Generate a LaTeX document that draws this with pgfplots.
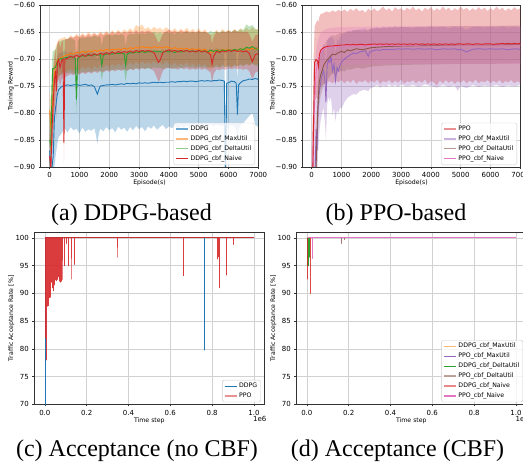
\documentclass[border=0pt]{standalone}
\usepackage{fontspec}
\setmainfont{DejaVu Sans}
\newfontfamily\capfont{Liberation Serif}
\usepackage{pgfplots}
\pgfplotsset{compat=1.18}
\usepackage{pgfplotstable}
\usepgfplotslibrary{fillbetween}
\definecolor{C0}{HTML}{1F77B4}
\definecolor{C1}{HTML}{FF7F0E}
\definecolor{C2}{HTML}{2CA02C}
\definecolor{C3}{HTML}{D62728}
\definecolor{C4}{HTML}{9467BD}
\definecolor{C5}{HTML}{8C564B}
\definecolor{C6}{HTML}{E377C2}

% ---------------- (a) DDPG-based ----------------
\pgfplotstableread{
x m lo hi
0 -0.870 -0.960 -0.790
40 -0.920 -0.960 -0.800
80 -0.900 -0.950 -0.790
120 -0.880 -0.940 -0.760
160 -0.810 -0.900 -0.730
200 -0.790 -0.880 -0.720
250 -0.768 -0.860 -0.700
300 -0.757 -0.845 -0.690
400 -0.751 -0.838 -0.688
500 -0.749 -0.828 -0.684
600 -0.748 -0.836 -0.690
700 -0.749 -0.826 -0.686
800 -0.748 -0.832 -0.692
900 -0.747 -0.829 -0.685
1000 -0.749 -0.838 -0.688
1100 -0.748 -0.827 -0.690
1200 -0.747 -0.835 -0.684
1300 -0.749 -0.830 -0.689
1400 -0.748 -0.833 -0.686
1500 -0.751 -0.828 -0.690
1550 -0.758 -0.840 -0.694
1600 -0.765 -0.857 -0.700
1650 -0.757 -0.838 -0.692
1700 -0.750 -0.829 -0.688
1800 -0.749 -0.834 -0.685
1900 -0.748 -0.826 -0.690
2000 -0.748 -0.832 -0.687
2100 -0.747 -0.828 -0.684
2200 -0.748 -0.836 -0.690
2300 -0.747 -0.825 -0.686
2400 -0.746 -0.831 -0.683
2500 -0.747 -0.827 -0.689
2600 -0.745 -0.835 -0.684
2700 -0.746 -0.826 -0.687
2800 -0.745 -0.832 -0.683
2900 -0.746 -0.824 -0.688
3000 -0.744 -0.830 -0.682
3100 -0.745 -0.826 -0.686
3200 -0.744 -0.834 -0.683
3300 -0.745 -0.825 -0.687
3400 -0.744 -0.829 -0.682
3500 -0.743 -0.823 -0.686
3600 -0.744 -0.831 -0.683
3700 -0.743 -0.826 -0.685
3800 -0.744 -0.822 -0.682
3900 -0.743 -0.830 -0.686
4000 -0.743 -0.825 -0.683
4100 -0.742 -0.828 -0.681
4200 -0.743 -0.823 -0.685
4300 -0.742 -0.829 -0.682
4400 -0.742 -0.824 -0.684
4500 -0.741 -0.827 -0.681
4600 -0.742 -0.822 -0.685
4700 -0.741 -0.828 -0.682
4800 -0.741 -0.823 -0.680
4900 -0.742 -0.826 -0.684
5000 -0.741 -0.821 -0.681
5100 -0.740 -0.827 -0.683
5200 -0.741 -0.822 -0.680
5300 -0.740 -0.826 -0.684
5400 -0.741 -0.820 -0.681
5500 -0.740 -0.825 -0.683
5600 -0.740 -0.821 -0.680
5700 -0.739 -0.824 -0.682
5800 -0.740 -0.822 -0.681
5860 -0.741 -0.826 -0.683
5900 -0.935 -0.980 -0.880
5940 -0.745 -0.830 -0.685
6000 -0.744 -0.826 -0.684
6100 -0.741 -0.822 -0.681
6200 -0.742 -0.825 -0.683
6260 -0.745 -0.830 -0.686
6300 -0.803 -0.870 -0.740
6340 -0.748 -0.828 -0.688
6400 -0.744 -0.823 -0.684
6500 -0.740 -0.818 -0.681
6600 -0.739 -0.812 -0.680
6700 -0.737 -0.805 -0.678
6800 -0.738 -0.800 -0.679
6900 -0.736 -0.822 -0.677
7000 -0.738 -0.826 -0.678
}\tDDPG
\pgfplotstableread{
x m lo hi
0 -0.795 -0.850 -0.760
40 -0.830 -0.880 -0.780
80 -0.800 -0.860 -0.745
120 -0.760 -0.830 -0.712
160 -0.730 -0.790 -0.690
200 -0.712 -0.760 -0.678
250 -0.703 -0.742 -0.670
300 -0.700 -0.733 -0.664
400 -0.697 -0.727 -0.662
500 -0.694 -0.724 -0.659
600 -0.692 -0.722 -0.664
700 -0.690 -0.718 -0.656
800 -0.691 -0.723 -0.660
900 -0.688 -0.716 -0.653
1000 -0.689 -0.721 -0.658
1100 -0.686 -0.714 -0.652
1200 -0.688 -0.719 -0.657
1300 -0.685 -0.713 -0.650
1400 -0.687 -0.720 -0.655
1500 -0.684 -0.712 -0.651
1600 -0.686 -0.717 -0.656
1700 -0.683 -0.711 -0.649
1800 -0.685 -0.716 -0.654
1900 -0.682 -0.710 -0.648
2000 -0.684 -0.715 -0.653
2100 -0.682 -0.709 -0.647
2200 -0.683 -0.714 -0.652
2300 -0.681 -0.708 -0.646
2400 -0.683 -0.713 -0.651
2500 -0.680 -0.707 -0.645
2600 -0.682 -0.712 -0.649
2700 -0.679 -0.706 -0.643
2800 -0.681 -0.711 -0.648
2900 -0.678 -0.705 -0.637
3000 -0.680 -0.710 -0.641
3100 -0.677 -0.704 -0.636
3200 -0.679 -0.709 -0.645
3300 -0.678 -0.705 -0.641
3400 -0.680 -0.710 -0.646
3500 -0.677 -0.704 -0.640
3600 -0.679 -0.709 -0.645
3700 -0.678 -0.705 -0.642
3800 -0.680 -0.711 -0.647
3900 -0.677 -0.704 -0.641
4000 -0.679 -0.708 -0.645
4100 -0.681 -0.712 -0.648
4200 -0.679 -0.706 -0.643
4300 -0.682 -0.713 -0.649
4400 -0.680 -0.707 -0.644
4500 -0.682 -0.712 -0.648
4600 -0.680 -0.706 -0.642
4700 -0.683 -0.713 -0.649
4800 -0.681 -0.708 -0.644
4900 -0.683 -0.714 -0.650
5000 -0.681 -0.707 -0.643
5100 -0.684 -0.714 -0.650
5200 -0.682 -0.709 -0.645
5300 -0.685 -0.715 -0.651
5400 -0.689 -0.720 -0.655
5500 -0.686 -0.716 -0.652
5600 -0.683 -0.710 -0.646
5700 -0.685 -0.716 -0.651
5800 -0.682 -0.709 -0.644
5900 -0.684 -0.715 -0.650
6000 -0.682 -0.710 -0.645
6100 -0.685 -0.716 -0.651
6200 -0.682 -0.709 -0.644
6300 -0.684 -0.714 -0.649
6400 -0.681 -0.708 -0.643
6500 -0.683 -0.713 -0.648
6600 -0.681 -0.707 -0.642
6700 -0.683 -0.713 -0.647
6800 -0.680 -0.706 -0.641
6900 -0.682 -0.711 -0.646
7000 -0.680 -0.707 -0.643
}\tDMax
\pgfplotstableread{
x m lo hi
0 -0.850 -0.900 -0.800
40 -0.860 -0.910 -0.800
80 -0.760 -0.810 -0.705
100 -0.718 -0.752 -0.686
150 -0.717 -0.749 -0.684
200 -0.715 -0.746 -0.683
250 -0.706 -0.737 -0.675
300 -0.701 -0.731 -0.668
400 -0.699 -0.729 -0.666
500 -0.698 -0.727 -0.664
600 -0.697 -0.726 -0.663
700 -0.696 -0.725 -0.661
800 -0.697 -0.727 -0.664
860 -0.699 -0.728 -0.666
900 -0.775 -0.800 -0.745
940 -0.700 -0.730 -0.667
1000 -0.696 -0.726 -0.662
1100 -0.694 -0.724 -0.660
1200 -0.695 -0.725 -0.661
1300 -0.693 -0.723 -0.659
1400 -0.694 -0.724 -0.660
1500 -0.692 -0.722 -0.657
1600 -0.693 -0.723 -0.659
1700 -0.692 -0.722 -0.658
1750 -0.712 -0.740 -0.676
1800 -0.693 -0.722 -0.659
1900 -0.691 -0.721 -0.656
2000 -0.690 -0.720 -0.655
2100 -0.691 -0.721 -0.657
2200 -0.689 -0.719 -0.654
2300 -0.690 -0.720 -0.656
2400 -0.689 -0.719 -0.654
2500 -0.690 -0.721 -0.656
2550 -0.712 -0.742 -0.676
2600 -0.691 -0.721 -0.657
2700 -0.688 -0.718 -0.653
2800 -0.689 -0.719 -0.655
2900 -0.687 -0.717 -0.652
3000 -0.688 -0.718 -0.654
3100 -0.686 -0.716 -0.652
3200 -0.688 -0.718 -0.654
3300 -0.686 -0.717 -0.651
3400 -0.687 -0.718 -0.653
3500 -0.685 -0.715 -0.650
3600 -0.687 -0.717 -0.653
3700 -0.686 -0.716 -0.651
3800 -0.688 -0.719 -0.654
3900 -0.685 -0.715 -0.650
4000 -0.687 -0.717 -0.652
4100 -0.686 -0.716 -0.651
4200 -0.688 -0.718 -0.654
4300 -0.685 -0.715 -0.650
4400 -0.687 -0.717 -0.653
4500 -0.686 -0.716 -0.651
4600 -0.684 -0.714 -0.649
4700 -0.686 -0.716 -0.652
4800 -0.685 -0.715 -0.650
4900 -0.687 -0.717 -0.652
5000 -0.684 -0.714 -0.649
5100 -0.686 -0.716 -0.651
5200 -0.685 -0.715 -0.650
5300 -0.687 -0.717 -0.652
5400 -0.684 -0.714 -0.648
5500 -0.686 -0.716 -0.651
5600 -0.684 -0.714 -0.649
5700 -0.686 -0.716 -0.651
5800 -0.683 -0.713 -0.648
5900 -0.685 -0.715 -0.650
6000 -0.683 -0.713 -0.648
6100 -0.685 -0.715 -0.650
6200 -0.682 -0.712 -0.646
6300 -0.684 -0.714 -0.649
6400 -0.681 -0.711 -0.645
6500 -0.683 -0.713 -0.646
6600 -0.678 -0.710 -0.636
6700 -0.680 -0.711 -0.640
6800 -0.677 -0.709 -0.637
6900 -0.681 -0.712 -0.644
7000 -0.682 -0.713 -0.647
}\tDDelta
\pgfplotstableread{
x m lo hi
0 -0.880 -0.930 -0.830
40 -0.905 -0.960 -0.850
80 -0.830 -0.880 -0.780
120 -0.780 -0.840 -0.725
160 -0.740 -0.800 -0.700
200 -0.722 -0.770 -0.682
230 -0.760 -0.810 -0.720
260 -0.706 -0.745 -0.672
300 -0.701 -0.736 -0.666
350 -0.716 -0.750 -0.680
400 -0.704 -0.738 -0.669
450 -0.700 -0.733 -0.665
480 -0.855 -0.895 -0.800
510 -0.700 -0.734 -0.664
600 -0.699 -0.731 -0.663
700 -0.695 -0.728 -0.659
800 -0.697 -0.730 -0.661
900 -0.693 -0.726 -0.657
1000 -0.696 -0.729 -0.660
1100 -0.692 -0.725 -0.655
1200 -0.695 -0.728 -0.659
1300 -0.691 -0.724 -0.654
1400 -0.694 -0.727 -0.658
1500 -0.690 -0.723 -0.653
1600 -0.693 -0.726 -0.657
1700 -0.689 -0.722 -0.652
1800 -0.692 -0.725 -0.656
1900 -0.688 -0.721 -0.651
2000 -0.691 -0.724 -0.655
2100 -0.687 -0.720 -0.650
2200 -0.690 -0.723 -0.654
2300 -0.686 -0.719 -0.649
2400 -0.689 -0.722 -0.653
2500 -0.686 -0.719 -0.650
2600 -0.688 -0.722 -0.652
2700 -0.685 -0.718 -0.648
2800 -0.688 -0.721 -0.652
2900 -0.684 -0.717 -0.647
3000 -0.687 -0.720 -0.651
3100 -0.684 -0.717 -0.648
3200 -0.686 -0.719 -0.650
3300 -0.684 -0.716 -0.647
3400 -0.686 -0.719 -0.650
3500 -0.688 -0.722 -0.653
3600 -0.700 -0.735 -0.664
3650 -0.706 -0.742 -0.670
3700 -0.703 -0.738 -0.667
3800 -0.688 -0.721 -0.652
3900 -0.685 -0.718 -0.649
4000 -0.683 -0.716 -0.646
4100 -0.686 -0.719 -0.650
4200 -0.684 -0.717 -0.648
4300 -0.687 -0.720 -0.651
4400 -0.684 -0.716 -0.647
4500 -0.686 -0.719 -0.650
4600 -0.684 -0.717 -0.648
4700 -0.687 -0.720 -0.651
4800 -0.685 -0.718 -0.649
4900 -0.687 -0.720 -0.651
5000 -0.684 -0.717 -0.648
5100 -0.687 -0.720 -0.651
5200 -0.685 -0.718 -0.649
5300 -0.688 -0.721 -0.652
5400 -0.692 -0.725 -0.656
5450 -0.710 -0.745 -0.672
5500 -0.695 -0.728 -0.659
5600 -0.686 -0.719 -0.650
5700 -0.688 -0.721 -0.652
5800 -0.685 -0.718 -0.649
5900 -0.687 -0.720 -0.651
6000 -0.684 -0.717 -0.648
6100 -0.686 -0.719 -0.650
6200 -0.684 -0.717 -0.647
6300 -0.686 -0.719 -0.650
6400 -0.685 -0.718 -0.649
6500 -0.687 -0.720 -0.651
6600 -0.685 -0.718 -0.649
6700 -0.690 -0.723 -0.654
6800 -0.705 -0.738 -0.668
6900 -0.692 -0.725 -0.656
7000 -0.690 -0.723 -0.654
}\tDNaive

% ---------------- (b) PPO-based ----------------
\pgfplotstableread{
x m lo hi
0 -0.930 -0.990 -0.870
40 -0.905 -0.970 -0.800
70 -0.800 -0.900 -0.690
100 -0.706 -0.780 -0.640
150 -0.701 -0.770 -0.632
200 -0.704 -0.775 -0.628
230 -0.714 -0.785 -0.632
260 -0.692 -0.762 -0.622
300 -0.684 -0.752 -0.617
400 -0.679 -0.746 -0.615
500 -0.677 -0.744 -0.612
600 -0.676 -0.741 -0.614
700 -0.676 -0.745 -0.610
800 -0.675 -0.740 -0.613
900 -0.675 -0.743 -0.609
1000 -0.674 -0.739 -0.612
1100 -0.674 -0.745 -0.608
1200 -0.673 -0.740 -0.613
1300 -0.674 -0.744 -0.607
1400 -0.673 -0.738 -0.611
1500 -0.674 -0.746 -0.606
1600 -0.673 -0.741 -0.612
1700 -0.673 -0.743 -0.609
1800 -0.674 -0.739 -0.614
1900 -0.673 -0.745 -0.607
2000 -0.673 -0.740 -0.611
2100 -0.672 -0.744 -0.606
2200 -0.673 -0.738 -0.612
2300 -0.672 -0.746 -0.608
2400 -0.673 -0.741 -0.603
2500 -0.672 -0.743 -0.610
2600 -0.673 -0.739 -0.606
2700 -0.672 -0.745 -0.612
2800 -0.673 -0.740 -0.604
2900 -0.672 -0.744 -0.609
3000 -0.673 -0.738 -0.606
3100 -0.672 -0.746 -0.611
3200 -0.673 -0.741 -0.605
3300 -0.672 -0.743 -0.609
3400 -0.673 -0.739 -0.603
3500 -0.672 -0.745 -0.610
3600 -0.673 -0.740 -0.606
3700 -0.672 -0.744 -0.612
3800 -0.673 -0.738 -0.605
3900 -0.672 -0.746 -0.609
4000 -0.673 -0.741 -0.604
4100 -0.672 -0.743 -0.611
4200 -0.673 -0.749 -0.606
4300 -0.672 -0.740 -0.610
4400 -0.673 -0.745 -0.603
4500 -0.672 -0.739 -0.609
4600 -0.673 -0.744 -0.605
4700 -0.672 -0.740 -0.611
4800 -0.673 -0.746 -0.606
4900 -0.672 -0.741 -0.610
5000 -0.672 -0.744 -0.603
5100 -0.673 -0.739 -0.609
5200 -0.672 -0.745 -0.605
5300 -0.672 -0.740 -0.611
5400 -0.673 -0.744 -0.606
5500 -0.672 -0.738 -0.610
5600 -0.672 -0.745 -0.604
5700 -0.673 -0.741 -0.609
5800 -0.672 -0.743 -0.605
5900 -0.672 -0.739 -0.611
6000 -0.672 -0.745 -0.606
6100 -0.673 -0.740 -0.610
6200 -0.672 -0.744 -0.603
6300 -0.672 -0.739 -0.609
6400 -0.671 -0.745 -0.605
6500 -0.672 -0.741 -0.611
6600 -0.671 -0.743 -0.606
6700 -0.672 -0.739 -0.610
6800 -0.671 -0.745 -0.604
6900 -0.672 -0.741 -0.609
7000 -0.671 -0.744 -0.606
}\tPPO
\pgfplotstableread{
x m lo hi
0 -0.960 -0.990 -0.900
80 -0.950 -0.990 -0.880
120 -0.900 -0.970 -0.820
150 -0.830 -0.900 -0.740
180 -0.870 -0.940 -0.790
210 -0.800 -0.880 -0.720
250 -0.765 -0.840 -0.700
300 -0.745 -0.815 -0.690
350 -0.730 -0.800 -0.680
400 -0.722 -0.790 -0.672
450 -0.742 -0.820 -0.680
480 -0.780 -0.850 -0.715
520 -0.712 -0.785 -0.668
560 -0.702 -0.770 -0.660
600 -0.706 -0.778 -0.662
650 -0.696 -0.770 -0.655
700 -0.722 -0.805 -0.665
750 -0.710 -0.790 -0.660
800 -0.740 -0.815 -0.690
850 -0.716 -0.795 -0.662
900 -0.722 -0.800 -0.668
950 -0.712 -0.790 -0.660
1000 -0.706 -0.792 -0.655
1100 -0.700 -0.780 -0.652
1200 -0.696 -0.772 -0.650
1300 -0.692 -0.768 -0.648
1400 -0.689 -0.765 -0.646
1500 -0.690 -0.766 -0.647
1600 -0.687 -0.760 -0.645
1700 -0.686 -0.758 -0.644
1800 -0.685 -0.757 -0.643
1900 -0.695 -0.760 -0.650
1950 -0.687 -0.755 -0.645
2000 -0.686 -0.754 -0.644
2100 -0.684 -0.751 -0.643
2200 -0.683 -0.748 -0.641
2300 -0.684 -0.753 -0.644
2400 -0.682 -0.749 -0.640
2500 -0.683 -0.752 -0.643
2600 -0.682 -0.747 -0.640
2700 -0.683 -0.751 -0.642
2800 -0.682 -0.748 -0.639
2900 -0.681 -0.752 -0.642
3000 -0.682 -0.747 -0.640
3200 -0.681 -0.751 -0.641
3400 -0.682 -0.748 -0.643
3600 -0.681 -0.752 -0.640
3800 -0.682 -0.747 -0.642
4000 -0.681 -0.750 -0.639
4200 -0.683 -0.753 -0.642
4400 -0.681 -0.748 -0.640
4600 -0.682 -0.752 -0.643
4800 -0.681 -0.749 -0.640
4900 -0.683 -0.759 -0.642
5000 -0.682 -0.750 -0.641
5200 -0.687 -0.754 -0.646
5400 -0.682 -0.748 -0.641
5600 -0.681 -0.752 -0.640
5800 -0.682 -0.749 -0.642
6000 -0.681 -0.751 -0.640
6200 -0.682 -0.748 -0.642
6400 -0.681 -0.752 -0.639
6600 -0.683 -0.749 -0.642
6800 -0.681 -0.751 -0.640
7000 -0.682 -0.748 -0.642
}\tPMax
\pgfplotstableread{
x m lo hi
0 -0.960 -0.990 -0.920
100 -0.950 -0.990 -0.900
150 -0.900 -0.960 -0.840
200 -0.800 -0.860 -0.750
250 -0.745 -0.790 -0.705
300 -0.730 -0.770 -0.690
350 -0.722 -0.760 -0.684
400 -0.712 -0.750 -0.675
500 -0.703 -0.740 -0.666
600 -0.697 -0.733 -0.661
700 -0.691 -0.727 -0.656
800 -0.692 -0.728 -0.657
900 -0.688 -0.724 -0.653
1000 -0.686 -0.722 -0.651
1100 -0.688 -0.723 -0.652
1200 -0.683 -0.719 -0.648
1300 -0.685 -0.720 -0.650
1500 -0.681 -0.716 -0.646
1700 -0.683 -0.718 -0.648
2000 -0.679 -0.714 -0.644
2500 -0.677 -0.712 -0.642
3000 -0.676 -0.711 -0.641
4000 -0.675 -0.710 -0.640
5000 -0.674 -0.709 -0.639
6000 -0.674 -0.709 -0.639
7000 -0.673 -0.708 -0.638
}\tPDelta
\pgfplotstableread{
x m lo hi
0 -0.940 -0.990 -0.880
60 -0.860 -0.930 -0.790
100 -0.780 -0.850 -0.720
150 -0.725 -0.770 -0.685
200 -0.705 -0.745 -0.668
300 -0.688 -0.724 -0.652
400 -0.682 -0.717 -0.647
500 -0.679 -0.714 -0.644
700 -0.677 -0.712 -0.642
1000 -0.676 -0.711 -0.641
2000 -0.675 -0.710 -0.640
4000 -0.674 -0.709 -0.639
7000 -0.674 -0.709 -0.639
}\tPNaive

\pgfplotsset{
  myax/.style={
    scale only axis,
    axis line style={black!80, line width=0.6pt},
    grid=major,
    major grid style={black!18, line width=0.6pt},
    tick align=outside,
    tick pos=left,
    major tick length=2pt,
    tick style={black!80, line width=0.5pt},
    ticklabel style={font=\fontsize{7}{8}\selectfont},
    label style={font=\fontsize{6.2}{7}\selectfont},
    legend cell align=left,
    legend style={font=\fontsize{6.2}{7}\selectfont, draw=black!20,
      rounded corners=1.5pt, fill=white, fill opacity=0.8, text opacity=1,
      inner xsep=1.5pt, inner ysep=1pt, row sep=-0.3pt,
      at={(0.985,0.012)}, anchor=south east},
    legend image code/.code={\draw[##1, line width=1.3pt] (0pt,0pt) -- (12pt,0pt);},
  },
  rewax/.style={myax,
    width=217.6pt, height=162pt,
    xmin=-300, xmax=7000, ymin=-0.9, ymax=-0.6,
    xtick={0,1000,2000,3000,4000,5000,6000,7000},
    xticklabels={0,1000,2000,3000,4000,5000,6000,7000},
    ytick={-0.90,-0.85,-0.80,-0.75,-0.70,-0.65,-0.60},
    yticklabels={−0.90,−0.85,−0.80,−0.75,−0.70,−0.65,−0.60},
    xlabel={Episode(s)}, ylabel={Training Reward},
    xlabel style={at={(axis description cs:0.5,0)}, anchor=center, yshift=-16pt},
    ylabel style={at={(axis description cs:-0.1365,0.5)}, anchor=center},
  },
  accax/.style={myax,
    width=230pt, height=172pt,
    xmin=-0.05, xmax=1.05, ymin=70, ymax=101,
    xtick={0,0.2,0.4,0.6,0.8,1.0},
    xticklabels={0.0,0.2,0.4,0.6,0.8,1.0},
    ytick={70,75,80,85,90,95,100},
    yticklabels={70,75,80,85,90,95,100},
    xlabel={Time step}, ylabel={Traffic Acceptance Rate [\%]},
    xlabel style={at={(axis description cs:0.5,0)}, anchor=center, yshift=-16.4pt},
    ylabel style={at={(axis description cs:-0.1,0.5)}, anchor=center},
  },
}

\newcommand{\band}[4]{% table, name, color, opacity
  \addplot[name path=#2h, draw=none, forget plot] table[x=x,y=hi]{#1};
  \addplot[name path=#2l, draw=none, forget plot] table[x=x,y=lo]{#1};
  \addplot[fill=#3, fill opacity=#4, draw=none, forget plot] fill between[of=#2h and #2l];
}

\begin{document}
\begin{tikzpicture}

% (a)
\begin{axis}[rewax, at={(40.7pt,303pt)}, anchor=south west]
\band{\tDDPG}{ad}{C0}{0.3}
\band{\tDMax}{ao}{C1}{0.3}
\band{\tDDelta}{ag}{C2}{0.3}
\band{\tDNaive}{ar}{C3}{0.3}
\addplot[C0, line width=0.9pt, forget plot] table[x=x,y=m]{\tDDPG};
\addplot[C1, line width=0.9pt, forget plot] table[x=x,y=m]{\tDMax};
\addplot[C2, line width=0.9pt, forget plot] table[x=x,y=m]{\tDDelta};
\addplot[C3, line width=0.9pt, forget plot] table[x=x,y=m]{\tDNaive};
\addlegendimage{C0, opacity=0.65}\addlegendentry{DDPG}
\addlegendimage{C1, opacity=0.55}\addlegendentry{DDPG\_cbf\_MaxUtil}
\addlegendimage{C2, opacity=0.55}\addlegendentry{DDPG\_cbf\_DeltaUtil}
\addlegendimage{C3}\addlegendentry{DDPG\_cbf\_Naive}
\end{axis}

% (b)
\begin{axis}[rewax, at={(302.7pt,303pt)}, anchor=south west]
\band{\tPPO}{bp}{C3}{0.3}
\band{\tPMax}{bm}{C4}{0.3}
\band{\tPDelta}{bd}{C5}{0.25}
\band{\tPNaive}{bn}{C6}{0.25}
\addplot[C4, line width=0.9pt, forget plot] table[x=x,y=m]{\tPMax};
\addplot[C5, line width=0.9pt, forget plot] table[x=x,y=m]{\tPDelta};
\addplot[C6, line width=0.9pt, forget plot] table[x=x,y=m]{\tPNaive};
\addplot[C3, line width=0.9pt, forget plot] table[x=x,y=m]{\tPPO};
\addlegendimage{C3, opacity=0.5}\addlegendentry{PPO}
\addlegendimage{C4, opacity=0.5}\addlegendentry{PPO\_cbf\_MaxUtil}
\addlegendimage{C5, opacity=0.6}\addlegendentry{PPO\_cbf\_DeltaUtil}
\addlegendimage{C6}\addlegendentry{PPO\_cbf\_Naive}
\end{axis}

% (c)
\begin{axis}[accax, name=cax, at={(34.4pt,65.7pt)}, anchor=south west]
\addplot[C0, line width=0.9pt, line join=round, forget plot] coordinates {
(0,100) (0.002,100) (0.002,68) (0.002,100) (0.765,100) (0.765,79.8) (0.765,100) (1.0,100)};
\addplot[C3, opacity=0.9, line width=0.9pt, line join=round, forget plot] coordinates {
(0,100)
(0.004,100) (0.004,86) (0.004,100)
(0.005,100) (0.005,82) (0.005,100)
(0.006,100) (0.006,79) (0.006,100)
(0.007,100) (0.007,78) (0.007,100)
(0.008,100) (0.008,80) (0.008,100)
(0.009,100) (0.009,84) (0.009,100)
(0.010,100) (0.010,87.5) (0.010,100)
(0.011,100) (0.011,88) (0.011,100)
(0.012,100) (0.012,90) (0.012,100)
(0.013,100) (0.013,87.7) (0.013,100)
(0.014,100) (0.014,91) (0.014,100)
(0.015,100) (0.015,88.5) (0.015,100)
(0.016,100) (0.016,93) (0.016,100)
(0.017,100) (0.017,87.8) (0.017,100)
(0.018,100) (0.018,90) (0.018,100)
(0.019,100) (0.019,89) (0.019,100)
(0.020,100) (0.020,94) (0.020,100)
(0.021,100) (0.021,89.2) (0.021,100)
(0.022,100) (0.022,92) (0.022,100)
(0.023,100) (0.023,90.5) (0.023,100)
(0.024,100) (0.024,95) (0.024,100)
(0.025,100) (0.025,89.3) (0.025,100)
(0.026,100) (0.026,91) (0.026,100)
(0.028,100) (0.028,90.5) (0.028,100)
(0.030,100) (0.030,92) (0.030,100)
(0.032,100) (0.032,93) (0.032,100)
(0.034,100) (0.034,91) (0.034,100)
(0.036,100) (0.036,95) (0.036,100)
(0.038,100) (0.038,97) (0.038,100)
(0.040,100) (0.040,90.5) (0.040,100)
(0.042,100) (0.042,93.5) (0.042,100)
(0.044,100) (0.044,91.5) (0.044,100)
(0.046,100) (0.046,96) (0.046,100)
(0.048,100) (0.048,92.5) (0.048,100)
(0.050,100) (0.050,94) (0.050,100)
(0.052,100) (0.052,92.4) (0.052,100)
(0.054,100) (0.054,97) (0.054,100)
(0.056,100) (0.056,92.3) (0.056,100)
(0.058,100) (0.058,95) (0.058,100)
(0.060,100) (0.060,92.5) (0.060,100)
(0.062,100) (0.062,98) (0.062,100)
(0.064,100) (0.064,94.8) (0.064,100)
(0.066,100) (0.066,93) (0.066,100)
(0.068,100) (0.068,96) (0.068,100)
(0.070,100) (0.070,92.2) (0.070,100)
(0.072,100) (0.072,97) (0.072,100)
(0.074,100) (0.074,92) (0.074,100)
(0.076,100) (0.076,95) (0.076,100)
(0.078,100) (0.078,92.2) (0.078,100)
(0.080,100) (0.080,94) (0.080,100)
(0.082,100) (0.082,92.5) (0.082,100)
(0.084,100) (0.084,96) (0.084,100)
(0.086,100) (0.086,98) (0.086,100)
(0.095,100) (0.095,95) (0.095,100)
(0.105,100) (0.105,99) (0.105,100)
(0.112,100) (0.112,95) (0.112,100)
(0.125,100) (0.125,92.6) (0.125,100)
(0.140,100) (0.140,95.2) (0.140,100)
(0.345,100) (0.345,96.5) (0.345,100)
(0.665,100) (0.665,93.2) (0.665,100)
(0.825,100) (0.825,96.2) (0.825,100)
(0.830,100) (0.830,96.6) (0.830,100)
(0.835,100) (0.835,91) (0.835,100)
(0.870,100) (0.870,93.3) (0.870,100)
(0.900,100) (0.900,98.8) (0.900,100)
(1.0,100)};
\addlegendimage{C0}\addlegendentry{DDPG}
\addlegendimage{C3, opacity=0.5}\addlegendentry{PPO}
\end{axis}
\node[anchor=west, inner sep=0pt, font=\fontsize{7}{8}\selectfont] at ([xshift=-11.5pt, yshift=-14.8pt]cax.south east) {1e6};

% (d)
\begin{axis}[accax, name=dax, at={(296.4pt,65.7pt)}, anchor=south west]
\addplot[C1, opacity=0.7, line width=0.9pt, line join=round, forget plot] coordinates {
(0,100) (0.004,100) (0.004,97) (0.004,100) (1.0,100)};
\addplot[C4, line width=0.9pt, line join=round, forget plot] coordinates {
(0,100) (0.008,100) (0.008,96) (0.008,100) (1.0,100)};
\addplot[C2, line width=0.9pt, line join=round, forget plot] coordinates {
(0,100) (0.003,100) (0.003,96) (0.003,100) (0.005,100) (0.005,95) (0.005,100)
(0.007,100) (0.007,95.2) (0.007,100) (0.009,100) (0.009,95) (0.009,100)
(0.011,100) (0.011,96.5) (0.011,100) (0.014,100) (0.014,97.5) (0.014,100) (1.0,100)};
\addplot[C5, opacity=0.8, line width=0.9pt, line join=round, forget plot] coordinates {
(0,100) (0.165,100) (0.165,99.0) (0.165,100) (0.178,100) (0.178,99.7) (0.178,100) (1.0,100)};
\addplot[C3, opacity=0.85, line width=0.9pt, line join=round, forget plot] coordinates {
(0,100) (0.0005,100) (0.0005,92.6) (0.0005,100) (0.016,100) (0.016,90) (0.016,100) (1.0,100)};
\addplot[C6, line width=0.9pt, line join=round, forget plot] coordinates {
(0,100) (0.027,100) (0.027,96.3) (0.027,100) (1.0,100)};
\addlegendimage{C1, opacity=0.55}\addlegendentry{DDPG\_cbf\_MaxUtil}
\addlegendimage{C4}\addlegendentry{PPO\_cbf\_MaxUtil}
\addlegendimage{C2}\addlegendentry{DDPG\_cbf\_DeltaUtil}
\addlegendimage{C5, opacity=0.55}\addlegendentry{PPO\_cbf\_DeltaUtil}
\addlegendimage{C3, opacity=0.55}\addlegendentry{DDPG\_cbf\_Naive}
\addlegendimage{C6}\addlegendentry{PPO\_cbf\_Naive}
\end{axis}
\node[anchor=west, inner sep=0pt, font=\fontsize{7}{8}\selectfont] at ([xshift=-11pt, yshift=-14.8pt]dax.south east) {1e6};

% captions
\node[font=\capfont\fontsize{24}{28}\selectfont, anchor=base] at (131.5pt,249.5pt) {(a) DDPG-based};
\node[font=\capfont\fontsize{24}{28}\selectfont, anchor=base] at (396pt,249.5pt) {(b) PPO-based};
\node[font=\capfont\fontsize{24}{28}\selectfont, anchor=base] at (137pt,13.5pt) {(c) Acceptance (no CBF)};
\node[font=\capfont\fontsize{24}{28}\selectfont, anchor=base] at (397.5pt,13.5pt) {(d) Acceptance (CBF)};

\pgfresetboundingbox
\useasboundingbox (0,0) rectangle (523pt,470pt);
\end{tikzpicture}
\end{document}
